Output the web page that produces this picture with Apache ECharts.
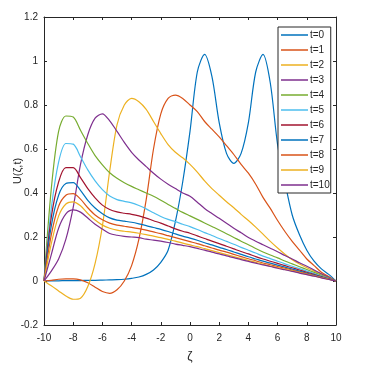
<!DOCTYPE html>
<html lang="en">
<head>
    <meta charset="UTF-8"/>
    <title>U(zeta,t)</title>
    <script src="https://cdn.jsdelivr.net/npm/echarts@6/dist/echarts.min.js"></script>
    <style>
        html, body { margin: 0; padding: 0; background: #fff; }
    </style>
</head>
<body>
<div id="main" style="width: 387px;height:369px;"></div>

<script type="text/javascript">
    // zeta grid shared by all curves
    var zeta = [-10, -9.5, -9, -8.5, -8, -7.5, -7, -6.5, -6, -5.5, -5, -4.5, -4, -3.5, -3, -2.5, -2, -1.5, -1, -0.5,
        0, 0.5, 1, 1.5, 2, 2.5, 3, 3.5, 4, 4.5, 5, 5.5, 6, 6.5, 7, 7.5, 8, 8.5, 9, 9.5, 10];

    var u0 = [0, 0.001, 0.001, 0.002, 0.002, 0.002, 0.003, 0.003, 0.004, 0.005, 0.006, 0.008, 0.012, 0.018, 0.03, 0.05, 0.085, 0.14, 0.27, 0.45,
        0.68, 0.95, 1.03, 0.93, 0.72, 0.58, 0.535, 0.58, 0.72, 0.95, 1.03, 0.9, 0.62, 0.45, 0.3, 0.21, 0.14, 0.09, 0.055, 0.03, 0];
    var u1 = [0, 0.003, 0.008, 0.01, 0.01, 0.005, -0.008, -0.028, -0.048, -0.056, -0.04, 0.0, 0.07, 0.19, 0.37, 0.6, 0.76, 0.83, 0.845, 0.83,
        0.8, 0.77, 0.725, 0.69, 0.655, 0.615, 0.575, 0.53, 0.49, 0.44, 0.38, 0.33, 0.275, 0.225, 0.18, 0.14, 0.1, 0.07, 0.04, 0.02, 0];
    var u2 = [0, -0.022, -0.045, -0.068, -0.083, -0.078, -0.025, 0.08, 0.25, 0.5, 0.71, 0.8, 0.83, 0.815, 0.78, 0.725, 0.67, 0.62, 0.585, 0.56,
        0.53, 0.495, 0.455, 0.42, 0.39, 0.36, 0.333, 0.303, 0.275, 0.245, 0.213, 0.18, 0.15, 0.122, 0.097, 0.077, 0.06, 0.045, 0.03, 0.015, 0];
    var u3 = [0, 0.045, 0.1, 0.19, 0.335, 0.53, 0.665, 0.74, 0.76, 0.728, 0.68, 0.63, 0.585, 0.55, 0.52, 0.49, 0.463, 0.44, 0.42, 0.4,
        0.385, 0.358, 0.33, 0.307, 0.285, 0.262, 0.24, 0.219, 0.198, 0.181, 0.165, 0.149, 0.133, 0.116, 0.1, 0.083, 0.067, 0.05, 0.033, 0.017, 0];
    var u4 = [0, 0.42, 0.68, 0.75, 0.745, 0.685, 0.625, 0.57, 0.528, 0.492, 0.467, 0.447, 0.43, 0.415, 0.4, 0.385, 0.367, 0.348, 0.33, 0.312,
        0.296, 0.28, 0.264, 0.248, 0.232, 0.215, 0.198, 0.181, 0.165, 0.148, 0.132, 0.118, 0.105, 0.091, 0.078, 0.065, 0.052, 0.039, 0.026, 0.013, 0];
    var u5 = [0, 0.33, 0.54, 0.625, 0.622, 0.565, 0.505, 0.455, 0.415, 0.386, 0.37, 0.362, 0.355, 0.343, 0.328, 0.31, 0.293, 0.28, 0.27, 0.258,
        0.247, 0.234, 0.22, 0.207, 0.193, 0.18, 0.167, 0.153, 0.14, 0.127, 0.113, 0.102, 0.09, 0.078, 0.067, 0.056, 0.045, 0.034, 0.022, 0.011, 0];
    var u6 = [0, 0.29, 0.45, 0.515, 0.515, 0.47, 0.42, 0.378, 0.345, 0.325, 0.314, 0.308, 0.303, 0.296, 0.286, 0.274, 0.263, 0.25, 0.237, 0.226,
        0.217, 0.205, 0.193, 0.181, 0.17, 0.158, 0.146, 0.134, 0.123, 0.111, 0.1, 0.09, 0.08, 0.07, 0.06, 0.05, 0.04, 0.03, 0.02, 0.01, 0];
    var u7 = [0, 0.25, 0.39, 0.443, 0.447, 0.412, 0.367, 0.332, 0.306, 0.287, 0.277, 0.272, 0.267, 0.26, 0.252, 0.243, 0.235, 0.225, 0.214, 0.204,
        0.195, 0.185, 0.174, 0.164, 0.153, 0.143, 0.132, 0.121, 0.11, 0.1, 0.09, 0.081, 0.072, 0.063, 0.054, 0.045, 0.036, 0.027, 0.018, 0.009, 0];
    var u8 = [0, 0.21, 0.34, 0.39, 0.397, 0.372, 0.333, 0.3, 0.278, 0.263, 0.254, 0.249, 0.244, 0.238, 0.231, 0.223, 0.215, 0.206, 0.197, 0.188,
        0.179, 0.17, 0.16, 0.15, 0.14, 0.131, 0.121, 0.111, 0.101, 0.092, 0.082, 0.074, 0.066, 0.058, 0.05, 0.041, 0.033, 0.025, 0.016, 0.008, 0];
    var u9 = [0, 0.17, 0.295, 0.35, 0.36, 0.342, 0.307, 0.277, 0.254, 0.24, 0.231, 0.226, 0.222, 0.217, 0.211, 0.204, 0.197, 0.189, 0.181, 0.172,
        0.164, 0.156, 0.147, 0.138, 0.129, 0.12, 0.111, 0.102, 0.093, 0.085, 0.076, 0.068, 0.061, 0.053, 0.046, 0.038, 0.03, 0.023, 0.015, 0.008, 0];
    var u10 = [0, 0.12, 0.24, 0.305, 0.323, 0.313, 0.286, 0.258, 0.236, 0.216, 0.208, 0.203, 0.2, 0.197, 0.19, 0.186, 0.181, 0.175, 0.168, 0.162,
        0.156, 0.148, 0.14, 0.131, 0.123, 0.114, 0.106, 0.097, 0.089, 0.081, 0.073, 0.066, 0.058, 0.051, 0.044, 0.036, 0.029, 0.022, 0.014, 0.007, 0];

    var names = ['t=0', 't=1', 't=2', 't=3', 't=4', 't=5', 't=6', 't=7', 't=8', 't=9', 't=10'];
    var curves = [u0, u1, u2, u3, u4, u5, u6, u7, u8, u9, u10];
    var colors = ['#0072BD', '#D95319', '#EDB120', '#7E2F8E', '#77AC30', '#4DBEEE', '#A2142F',
        '#0072BD', '#D95319', '#EDB120', '#7E2F8E'];

    var font = 'Liberation Sans, Arial, sans-serif';
    var ink = '#262626';

    var series = [];
    for (var i = 0; i < curves.length; i++) {
        var pts = [];
        for (var j = 0; j < zeta.length; j++) {
            pts.push([zeta[j], curves[i][j]]);
        }
        series.push({
            name: names[i],
            type: 'line',
            data: pts,
            smooth: 0.3,
            symbol: 'none',
            lineStyle: { width: 1.2, color: colors[i] },
            itemStyle: { color: colors[i] },
            xAxisIndex: 0,
            yAxisIndex: 0
        });
    }

    // common look of the four box edges (MATLAB style, ticks pointing in)
    function edge(extra) {
        var a = {
            type: 'value',
            axisLine: { onZero: false, lineStyle: { color: ink, width: 1 } },
            axisTick: { inside: true, length: 3, lineStyle: { color: ink } },
            axisLabel: { fontFamily: font, fontSize: 10, color: ink, margin: 6 },
            splitLine: { show: false }
        };
        for (var k in extra) a[k] = extra[k];
        return a;
    }

    var myChart = echarts.init(document.getElementById('main'));
    var option = {
        animation: false,
        grid: { left: 44, right: 51, top: 17, bottom: 44 },
        legend: {
            data: names,
            orient: 'vertical',
            left: 278,
            top: 27,
            icon: 'rect',
            itemWidth: 27,
            itemHeight: 1.5,
            itemGap: 3,
            padding: [2, 1, 2, 3],
            backgroundColor: '#fff',
            borderColor: ink,
            borderWidth: 1,
            textStyle: { fontFamily: font, fontSize: 10, lineHeight: 12, color: ink, padding: [0, 0, 0, -3] }
        },
        xAxis: [
            edge({ min: -10, max: 10, interval: 2, name: 'ζ', nameLocation: 'middle', nameGap: 26,
                nameMoveOverlap: false,
                nameTextStyle: { fontFamily: font, fontSize: 12, color: ink },
                axisLabel: { fontFamily: font, fontSize: 10, color: ink, margin: 8 } }),
            edge({ min: -10, max: 10, interval: 2, position: 'top', axisLabel: { show: false } })
        ],
        yAxis: [
            edge({ min: -0.2, max: 1.2, interval: 0.2, name: 'U(ζ,t)', nameLocation: 'middle', nameGap: 21,
                nameMoveOverlap: false,
                nameTextStyle: { fontFamily: font, fontSize: 11, color: ink } }),
            edge({ min: -0.2, max: 1.2, interval: 0.2, position: 'right', axisLabel: { show: false } })
        ],
        series: series
    };
    myChart.setOption(option);
</script>
</body>
</html>
